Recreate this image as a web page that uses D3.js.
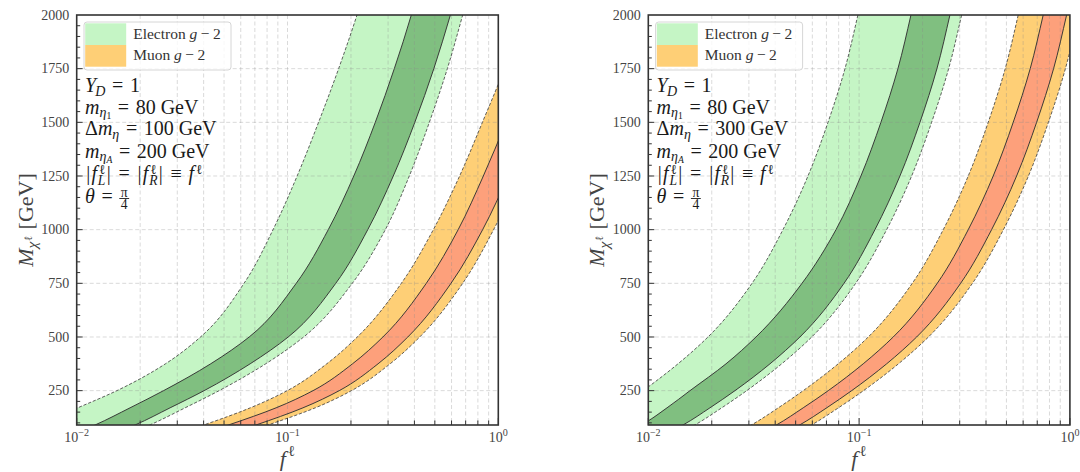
<!DOCTYPE html>
<html>
<head>
<meta charset="utf-8">
<script src="https://cdn.jsdelivr.net/npm/d3@7"></script>
<style>
  html, body { margin: 0; padding: 0; background: #fff; }
  svg { display: block; }
</style>
</head>
<body>
<svg id="fig" width="1080" height="472"></svg>
<script>
// Dark-matter mass grid (GeV) on which every band edge is sampled
const massGrid = [60, 90, 170, 250, 375, 500, 750, 1000, 1250, 1500, 1750, 2000, 2250];

// ---- Δm_η = 100 GeV : coupling f^ℓ along each band edge ----
// electron g-2: 2σ low edge, 1σ low edge, 1σ high edge, 2σ high edge
const eOuterLoA = [0.00526, 0.00647, 0.01011, 0.01551, 0.02636, 0.03866, 0.0622, 0.0854, 0.1111, 0.1404, 0.1748, 0.2136, 0.2549];
const eInnerLoA = [0.01037, 0.01222, 0.01791, 0.02583, 0.04320, 0.0658, 0.1100, 0.1561, 0.2063, 0.2609, 0.3211, 0.3867, 0.4507];
const eInnerHiA = [0.01597, 0.01891, 0.02774, 0.04023, 0.0665, 0.1008, 0.1694, 0.2403, 0.3176, 0.4018, 0.4945, 0.5925, 0.6980];
const eOuterHiA = [0.01881, 0.02221, 0.03268, 0.04739, 0.0788, 0.1193, 0.2029, 0.2911, 0.3783, 0.4709, 0.5731, 0.6778, 0.7960];
// muon g-2
const mOuterLoA = [0.03233, 0.0400, 0.0666, 0.0997, 0.1535, 0.2143, 0.3467, 0.4918, 0.6553, 0.8406, 1.069, 1.315, 1.575];
const mInnerLoA = [0.04249, 0.05245, 0.0883, 0.1322, 0.2034, 0.2835, 0.4554, 0.6451, 0.8492, 1.088, 1.375, 1.683, 2.005];
const mInnerHiA = [0.05738, 0.07085, 0.1184, 0.1760, 0.2689, 0.3722, 0.5965, 0.8428, 1.114, 1.417, 1.779, 2.176, 2.592];
const mOuterHiA = [0.06542, 0.08075, 0.1355, 0.2011, 0.3067, 0.4239, 0.6776, 0.9500, 1.253, 1.591, 1.998, 2.440, 2.907];

// ---- Δm_η = 300 GeV ----
const eOuterLoB = [0.00469, 0.00535, 0.00718, 0.00944, 0.01383, 0.01919, 0.03104, 0.04353, 0.0572, 0.0712, 0.0857, 0.0987, 0.1126];
const eInnerLoB = [0.00801, 0.00924, 0.01227, 0.01577, 0.02337, 0.03242, 0.0536, 0.0777, 0.1020, 0.1269, 0.1528, 0.1762, 0.2008];
const eInnerHiB = [0.01281, 0.01461, 0.01961, 0.02578, 0.03778, 0.0524, 0.0848, 0.1189, 0.1562, 0.1944, 0.2340, 0.2697, 0.3075];
const eOuterHiB = [0.01456, 0.01660, 0.02230, 0.02930, 0.04293, 0.0596, 0.0963, 0.1351, 0.1775, 0.2208, 0.2659, 0.3065, 0.3494];
const mOuterLoB = [0.02702, 0.03080, 0.04136, 0.0543, 0.0796, 0.1105, 0.1787, 0.2507, 0.3294, 0.4098, 0.4933, 0.5685, 0.6482];
const mInnerLoB = [0.03551, 0.04048, 0.0543, 0.0714, 0.1046, 0.1452, 0.2348, 0.3294, 0.4327, 0.5384, 0.6482, 0.7470, 0.8519];
const mInnerHiB = [0.04583, 0.0522, 0.0702, 0.0922, 0.1351, 0.1875, 0.3031, 0.4252, 0.5587, 0.6952, 0.8368, 0.9646, 1.100];
const mOuterHiB = [0.0521, 0.0594, 0.0798, 0.1049, 0.1537, 0.2133, 0.3448, 0.4837, 0.6357, 0.7907, 0.9521, 1.097, 1.251];

// axis ticks and panel parameters
const yMajorTicks = [250, 500, 750, 1000, 1250, 1500, 1750, 2000];
const xDecades = [-2, -1, 0];
const deltaMValues = ['100', '300'];
const legendLabels = ['Electron', 'Muon'];

const colors = {
  eOuter: '#c5f5c5', eInner: '#80bf80',
  mOuter: '#fecf76', mInner: '#fda07b'
};

const FONT = '"Liberation Serif","DejaVu Serif",serif';
const TOP = 15, BOT = 425, PW = 421.6;
const panelLefts = [76.7, 648.3];
const svg = d3.select('#fig').attr('font-family', FONT);

// hidden text used to measure string widths
const measurer = svg.append('text').attr('xml:space', 'preserve')
  .style('white-space', 'pre').attr('opacity', 0);
function textWidth(str, size, italic) {
  measurer.attr('font-size', size).attr('font-style', italic ? 'italic' : 'normal').text(str);
  return measurer.node().getComputedTextLength();
}

// One <text> per formula: pieces placed as tspans (italic, scripts, stacked scripts, fractions)
function mathText(g, x, y, size, parts, fill, center) {
  const items = [], rules = [];
  let cx = 0, hold = 0;
  for (const p of parts) {
    const s = size * (p.s || 1);
    if (p.frac) {
      const wn = textWidth(p.frac[0], s, false), wd = textWidth(p.frac[1], s, false);
      const w = Math.max(wn, wd) + 0.15 * size;
      items.push({ t: p.frac[0], x: cx + (w - wn) / 2, y: -0.3 * size, s, i: false });
      items.push({ t: p.frac[1], x: cx + (w - wd) / 2, y: 0.3 * size, s, i: false });
      rules.push({ x1: cx, x2: cx + w, y: -0.2 * size });
      cx += w;
      continue;
    }
    const gl = (p.gl || 0) * size, gr = (p.gr || 0) * size, dx = (p.dx || 0) * size;
    const w = textWidth(p.t, s, p.i);
    items.push({ t: p.t, x: cx + gl + dx, y: -(p.r || 0) * size, s, i: p.i });
    const adv = gl + dx + w + gr;
    if (p.stay) hold = adv;
    else { cx += Math.max(adv, hold); hold = 0; }
  }
  const ox = x - (center ? cx / 2 : 0);
  const t = g.append('text').attr('fill', fill).attr('xml:space', 'preserve').style('white-space', 'pre');
  items.forEach(it => t.append('tspan')
    .attr('x', ox + it.x).attr('y', y + it.y)
    .attr('font-size', it.s).attr('font-style', it.i ? 'italic' : 'normal')
    .text(it.t));
  rules.forEach(r => g.append('line')
    .attr('x1', ox + r.x1).attr('x2', ox + r.x2).attr('y1', y + r.y).attr('y2', y + r.y)
    .attr('stroke', fill).attr('stroke-width', 0.9));
  return cx;
}

function drawPanel(idx, edges) {
  const left = panelLefts[idx];
  const x = d3.scaleLog().domain([0.01, 1]).range([left, left + PW]);
  const y = d3.scaleLinear().domain([90, 2000]).range([BOT, TOP]);
  const g = svg.append('g');

  const clipId = 'clip' + idx;
  svg.append('clipPath').attr('id', clipId).append('rect')
    .attr('x', left).attr('y', TOP).attr('width', PW).attr('height', BOT - TOP);
  const plot = g.append('g').attr('clip-path', `url(#${clipId})`);

  const rows = (a, b) => massGrid.map((M, i) => ({ M, a: a[i], b: b[i] })).reverse();
  const area = d3.area().curve(d3.curveMonotoneY)
    .y(d => y(d.M)).x0(d => x(d.a)).x1(d => x(d.b));
  const line = d3.line().curve(d3.curveMonotoneY)
    .y(d => y(d.M)).x(d => x(d.a));

  // allowed bands
  plot.append('path').attr('d', area(rows(edges.e[0], edges.e[3]))).attr('fill', colors.eOuter);
  plot.append('path').attr('d', area(rows(edges.e[1], edges.e[2]))).attr('fill', colors.eInner);
  plot.append('path').attr('d', area(rows(edges.m[0], edges.m[3]))).attr('fill', colors.mOuter);
  plot.append('path').attr('d', area(rows(edges.m[1], edges.m[2]))).attr('fill', colors.mInner);

  // dashed grid on every x tick and major y tick
  const xGrid = [];
  xDecades.slice(0, -1).forEach(k => { for (let m = 1; m <= 9; m++) xGrid.push(m * Math.pow(10, k)); });
  const gridG = plot.append('g').attr('stroke', '#8a8a8a').attr('stroke-opacity', 0.4)
    .attr('stroke-width', 0.8).attr('stroke-dasharray', '4,2.5');
  xGrid.filter(v => v > 0.0101).forEach(v => {
    gridG.append('line').attr('x1', x(v)).attr('x2', x(v)).attr('y1', TOP).attr('y2', BOT);
  });
  yMajorTicks.filter(v => v < 2000).forEach(v => {
    gridG.append('line').attr('x1', left).attr('x2', left + PW).attr('y1', y(v)).attr('y2', y(v));
  });

  // band edges: 2σ dashed, 1σ solid
  [edges.e, edges.m].forEach(set => {
    [set[0], set[3]].forEach(arr => {
      plot.append('path').attr('d', line(rows(arr, arr))).attr('fill', 'none')
        .attr('stroke', '#444').attr('stroke-width', 0.85).attr('stroke-dasharray', '3.2,1.8');
    });
    [set[1], set[2]].forEach(arr => {
      plot.append('path').attr('d', line(rows(arr, arr))).attr('fill', 'none')
        .attr('stroke', '#333').attr('stroke-width', 0.95);
    });
  });

  // inward ticks
  const tickG = g.append('g').attr('stroke', '#333').attr('stroke-width', 1);
  for (let v = 100; v < 2000; v += 50) {
    const major = v % 250 === 0;
    tickG.append('line').attr('x1', left).attr('x2', left + (major ? 6 : 3.5))
      .attr('y1', y(v)).attr('y2', y(v));
  }
  xGrid.concat([1]).forEach(v => {
    const major = Math.abs(Math.log10(v) - Math.round(Math.log10(v))) < 1e-9;
    tickG.append('line').attr('x1', x(v)).attr('x2', x(v))
      .attr('y1', BOT).attr('y2', BOT - (major ? 7 : 4.5));
  });

  // frame
  g.append('rect').attr('x', left).attr('y', TOP).attr('width', PW).attr('height', BOT - TOP)
    .attr('fill', 'none').attr('stroke', '#333').attr('stroke-width', 1.6);

  // tick labels
  yMajorTicks.forEach(v => {
    g.append('text').attr('x', left - 7.5).attr('y', y(v) + 4.8)
      .attr('text-anchor', 'end').attr('font-size', 14).attr('fill', '#444').text(v);
  });
  xDecades.forEach(k => {
    mathText(g, x(Math.pow(10, k)), 441.5, 14,
      [{ t: '10' }, { t: k === 0 ? '0' : '−' + Math.abs(k), s: 0.72, r: 0.42 }], '#444', true);
  });

  // axis labels
  mathText(g, left + PW / 2, 466, 22, [{ t: 'f', i: 1 }, { t: 'ℓ', s: 0.7, r: 0.45, dx: 0.1 }], '#444', true);
  const yl = g.append('g').attr('transform', `translate(${left - 44},${(TOP + BOT) / 2}) rotate(-90)`);
  mathText(yl, 0, 0, 22, [
    { t: 'M', i: 1 }, { t: 'χ', i: 1, s: 0.7, r: -0.2 }, { t: 'ℓ', s: 0.5, r: 0.05, dx: 0.02 },
    { t: '[GeV]', gl: 0.3 }], '#444', true);

  // legend
  const lg = g.append('g');
  lg.append('rect').attr('x', left + 7.3).attr('y', 22).attr('width', 147).attr('height', 48)
    .attr('rx', 3).attr('fill', '#fff').attr('fill-opacity', 0.8)
    .attr('stroke', '#cccccc').attr('stroke-width', 0.8);
  [colors.eOuter, colors.mOuter].forEach((c, i) => {
    lg.append('rect').attr('x', left + 8.5).attr('y', 23.3 + i * 21.7)
      .attr('width', 41).attr('height', 21.7).attr('fill', c);
    mathText(lg, left + 56.5, 38.7 + i * 21.7, 15.5,
      [{ t: legendLabels[i] }, { t: 'g', i: 1, gl: 0.25 }, { t: '−', gl: 0.22, gr: 0.22 }, { t: '2' }], '#333');
  });

  // model parameters
  const ag = g.append('g');
  const ax = left + 8.3, fs = 20, col = '#1a1a1a';
  const base = [92.3, 113.5, 135.3, 157.5, 180.3, 202.5];
  const eq = { t: '=', gl: 0.33, gr: 0.33 };
  const bar = { t: '|', gl: 0.06, gr: 0.06 };
  const ell = { t: 'ℓ', s: 0.68, r: 0.34, dx: 0.1, stay: 1 };
  mathText(ag, ax, base[0], fs, [{ t: 'Y', i: 1 }, { t: 'D', i: 1, s: 0.7, r: -0.18, dx: -0.04 }, eq, { t: '1' }], col);
  mathText(ag, ax, base[1], fs, [{ t: 'm', i: 1 }, { t: 'η', i: 1, s: 0.7, r: -0.18 },
    { t: '1', s: 0.48, r: -0.25 }, eq, { t: '80 GeV' }], col);
  mathText(ag, ax, base[2], fs, [{ t: 'Δ' }, { t: 'm', i: 1 }, { t: 'η', i: 1, s: 0.7, r: -0.18 },
    eq, { t: deltaMValues[idx] + ' GeV' }], col);
  mathText(ag, ax, base[3], fs, [{ t: 'm', i: 1 }, { t: 'η', i: 1, s: 0.7, r: -0.18 },
    { t: 'A', i: 1, s: 0.48, r: -0.25 }, eq, { t: '200 GeV' }], col);
  mathText(ag, ax, base[4], fs, [
    bar, { t: 'f', i: 1 }, ell, { t: 'L', i: 1, s: 0.68, r: -0.22, dx: 0.04 }, bar, eq,
    bar, { t: 'f', i: 1 }, ell, { t: 'R', i: 1, s: 0.68, r: -0.22, dx: 0.04 }, bar,
    { t: '≡', gl: 0.33, gr: 0.33 }, { t: 'f', i: 1 }, { t: 'ℓ', s: 0.68, r: 0.34, dx: 0.1 }], col);
  mathText(ag, ax, base[5], fs, [{ t: 'θ', i: 1 }, eq, { frac: ['π', '4'], s: 0.68 }], col);
}

drawPanel(0, { e: [eOuterLoA, eInnerLoA, eInnerHiA, eOuterHiA], m: [mOuterLoA, mInnerLoA, mInnerHiA, mOuterHiA] });
drawPanel(1, { e: [eOuterLoB, eInnerLoB, eInnerHiB, eOuterHiB], m: [mOuterLoB, mInnerLoB, mInnerHiB, mOuterHiB] });
measurer.remove();
</script>
</body>
</html>
